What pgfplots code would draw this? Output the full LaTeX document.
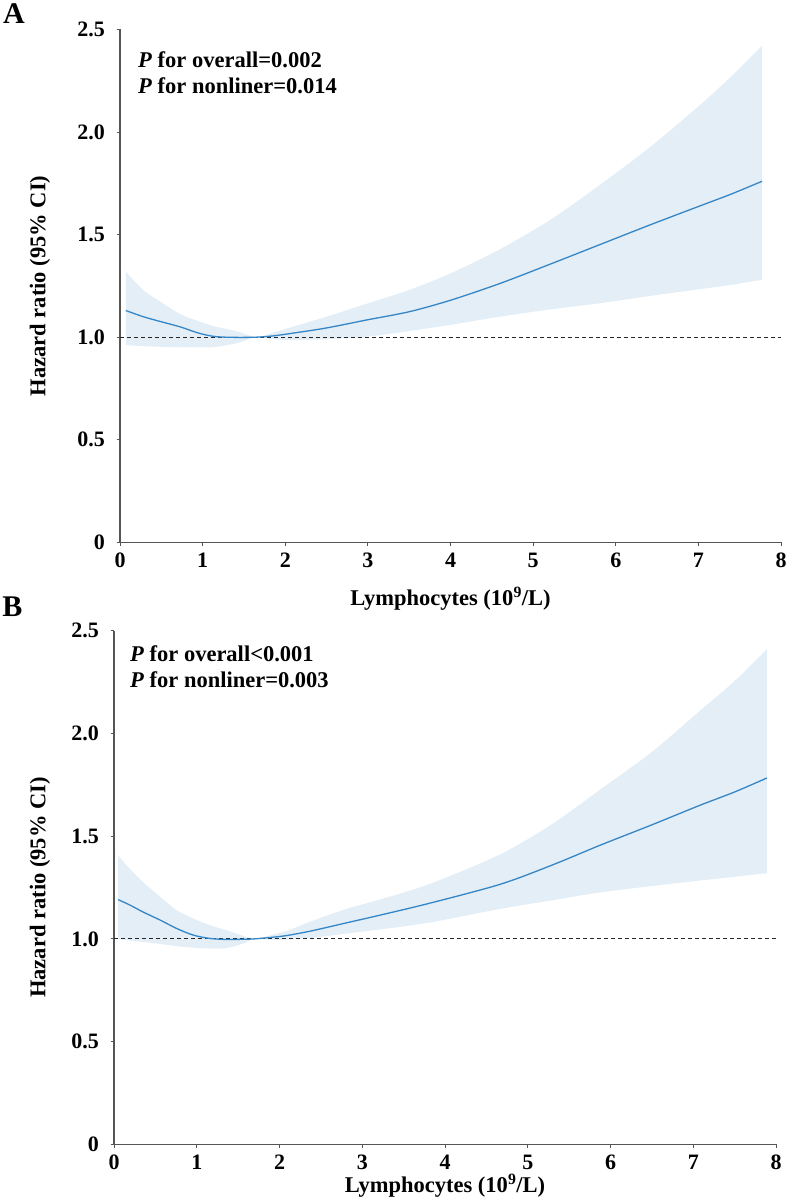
\documentclass[border=0pt]{standalone}
\usepackage{pgfplots}
\pgfplotsset{compat=1.18}
\usepackage{pgfplotstable}
\usepgfplotslibrary{fillbetween}
\usepackage{fontspec}
\setmainfont{Liberation Serif}
\definecolor{band}{RGB}{227,238,247}
\definecolor{curve}{RGB}{52,134,198}
\definecolor{axisgray}{RGB}{85,85,85}

\pgfplotstableread{
x est lo hi
0.07 1.130 0.962 1.320
0.28 1.100 0.956 1.230
0.50 1.075 0.953 1.170
0.73 1.050 0.951 1.112
0.95 1.020 0.950 1.078
1.15 1.003 0.952 1.052
1.40 0.999 0.970 1.030
1.65 1.000 0.999 1.001
1.85 1.006 0.990 1.022
2.10 1.020 0.986 1.052
2.50 1.045 0.990 1.100
3.00 1.085 1.003 1.165
3.50 1.124 1.030 1.230
4.00 1.180 1.060 1.311
4.60 1.262 1.100 1.429
5.20 1.355 1.135 1.570
5.80 1.450 1.165 1.740
6.40 1.545 1.200 1.922
7.00 1.637 1.233 2.125
7.40 1.698 1.255 2.272
7.77 1.760 1.280 2.420
}\dataA

\pgfplotstableread{
x est lo hi
0.05 1.191 1.000 1.406
0.19 1.165 0.992 1.341
0.35 1.131 0.985 1.277
0.56 1.091 0.975 1.204
0.76 1.050 0.964 1.139
0.96 1.018 0.957 1.099
1.16 1.002 0.953 1.066
1.36 0.997 0.955 1.042
1.56 0.998 0.977 1.015
1.70 1.000 0.999 1.001
1.97 1.010 0.994 1.026
2.13 1.019 0.997 1.045
2.40 1.040 1.005 1.088
2.81 1.078 1.026 1.146
3.20 1.114 1.045 1.190
3.82 1.174 1.080 1.268
4.67 1.266 1.146 1.412
5.30 1.360 1.188 1.560
5.87 1.455 1.226 1.725
6.50 1.555 1.257 1.910
7.08 1.650 1.284 2.110
7.50 1.715 1.302 2.255
7.89 1.783 1.320 2.410
}\dataB

\pgfplotsset{
  rcsstyle/.style={
    scale only axis,
    xmin=0, xmax=8, ymin=0, ymax=2.5,
    axis lines=left,
    axis line style={-, color=axisgray, line width=1.3bp},
    tick align=outside,
    major tick length=3.5bp,
    tick style={color=axisgray, line width=1bp},
    xtick={0,1,2,3,4,5,6,7,8},
    ytick={0,0.5,1,1.5,2,2.5},
    yticklabels={0,0.5,1.0,1.5,2.0,2.5},
    /pgf/number format/assume math mode=true,
    tick label style={font=\fontsize{22bp}{24bp}\selectfont\bfseries},
    yticklabel style={xshift=-8bp},
    xticklabel style={yshift=-4bp},
    label style={font=\fontsize{22.5bp}{26bp}\selectfont\bfseries},
    clip=false,
  }
}

\begin{document}
\begin{tikzpicture}

% Panel A
\begin{axis}[rcsstyle,
  at={(120bp,655.7bp)}, anchor=south west,
  width=661bp, height=512.8bp,
  xlabel={Lymphocytes (10\textsuperscript{9}/L)},
  ylabel={Hazard ratio (95\% CI)},
  xlabel style={at={(axis description cs:0.5,0)}, anchor=base, yshift=-63bp},
  ylabel style={at={(axis description cs:-0.121,0.5)}, anchor=center},
]
\addplot[name path=upA, draw=none, smooth, forget plot] table[x=x, y=hi] {\dataA};
\addplot[name path=loA, draw=none, smooth, forget plot] table[x=x, y=lo] {\dataA};
\addplot[band, draw=none] fill between[of=upA and loA];
\addplot[black!85, line width=0.9bp, dash pattern=on 4bp off 3bp] coordinates {(0,1) (8,1)};
\addplot[curve, line width=1.3bp, smooth] table[x=x, y=est] {\dataA};
\node[anchor=base west, inner sep=0, font=\fontsize{22.5bp}{26bp}\selectfont\bfseries] at (axis cs:0.218,2.317) {\textit{P} for overall=0.002};
\node[anchor=base west, inner sep=0, font=\fontsize{22.5bp}{26bp}\selectfont\bfseries] at (axis cs:0.218,2.190) {\textit{P} for nonliner=0.014};
\end{axis}

% Panel B
\begin{axis}[rcsstyle,
  at={(114bp,53.7bp)}, anchor=south west,
  width=662bp, height=513.6bp,
  xlabel={Lymphocytes (10\textsuperscript{9}/L)},
  ylabel={Hazard ratio (95\% CI)},
  xlabel style={at={(axis description cs:0.5,0)}, anchor=base, yshift=-48bp},
  ylabel style={at={(axis description cs:-0.112,0.5)}, anchor=center},
]
\addplot[name path=upB, draw=none, smooth, forget plot] table[x=x, y=hi] {\dataB};
\addplot[name path=loB, draw=none, smooth, forget plot] table[x=x, y=lo] {\dataB};
\addplot[band, draw=none] fill between[of=upB and loB];
\addplot[black!85, line width=0.9bp, dash pattern=on 4bp off 3bp] coordinates {(0,1) (8,1)};
\addplot[curve, line width=1.3bp, smooth] table[x=x, y=est] {\dataB};
\node[anchor=base west, inner sep=0, font=\fontsize{22.5bp}{26bp}\selectfont\bfseries] at (axis cs:0.193,2.348) {\textit{P} for overall<0.001};
\node[anchor=base west, inner sep=0, font=\fontsize{22.5bp}{26bp}\selectfont\bfseries] at (axis cs:0.193,2.222) {\textit{P} for nonliner=0.003};
\end{axis}

\node[font=\fontsize{30bp}{32bp}\selectfont\bfseries] at (14bp,1184bp) {A};
\node[font=\fontsize{30bp}{32bp}\selectfont\bfseries] at (12.5bp,591bp) {B};

\pgfresetboundingbox
\path[use as bounding box] (0,0) rectangle (786bp,1198bp);
\end{tikzpicture}
\end{document}
